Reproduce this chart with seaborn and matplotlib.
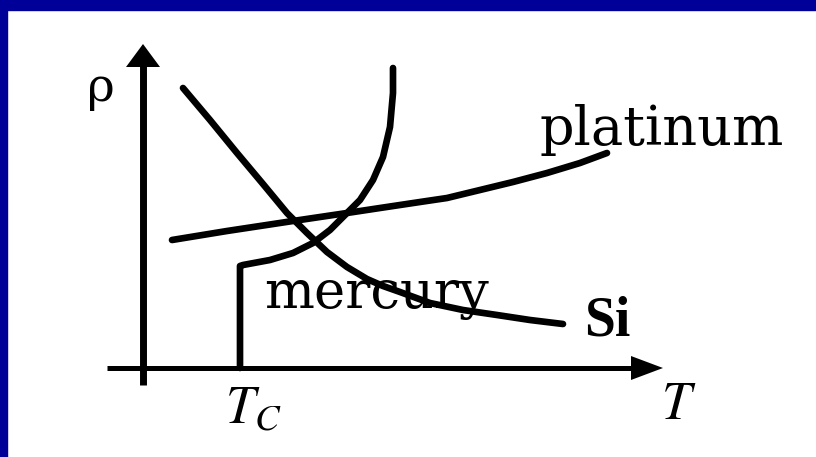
import matplotlib.pyplot as plt
import matplotlib.patches as mpatches
import seaborn as sns
import pandas as pd

# schematic curves, T and rho in arbitrary units (origin at axis crossing)
si_T = [0.40, 0.67, 0.94, 1.20, 1.44, 1.64, 1.84, 2.04, 2.24, 2.40, 2.57, 2.87, 3.20, 3.54, 3.87, 4.20]
si_rho = [2.80, 2.48, 2.15, 1.84, 1.55, 1.35, 1.16, 1.01, 0.89, 0.82, 0.76, 0.65, 0.58, 0.53, 0.48, 0.44]

pt_T = [0.29, 0.84, 1.50, 2.04, 2.37, 2.77, 3.04, 3.37, 3.70, 4.04, 4.37, 4.64]
pt_rho = [1.28, 1.37, 1.47, 1.55, 1.60, 1.66, 1.70, 1.78, 1.86, 1.95, 2.05, 2.15]

hg_T = [0.97, 0.97, 1.00, 1.27, 1.50, 1.70, 1.87, 2.04, 2.17, 2.30, 2.40, 2.47, 2.50, 2.50]
hg_rho = [0.00, 1.02, 1.03, 1.08, 1.15, 1.25, 1.38, 1.55, 1.68, 1.88, 2.11, 2.41, 2.75, 3.00]

curves = pd.concat([
    pd.DataFrame({'T': si_T, 'rho': si_rho, 'material': 'Si'}),
    pd.DataFrame({'T': pt_T, 'rho': pt_rho, 'material': 'platinum'}),
    pd.DataFrame({'T': hg_T, 'rho': hg_rho, 'material': 'mercury'}),
])

sns.set_theme(style='white')
plt.rcParams['mathtext.fontset'] = 'stix'
plt.rcParams['text.color'] = 'black'

fig = plt.figure(figsize=(8.16, 4.57), dpi=100, facecolor='white')
ax = fig.add_axes([0, 0, 1, 1])
ax.set_xlim(-1.43, 6.73)
ax.set_ylim(-0.89, 3.68)
ax.axis('off')

# blue slide frame (top and left)
fig.add_artist(mpatches.Rectangle((0, 1 - 10 / 457), 1, 10 / 457, transform=fig.transFigure,
                                  color='#000099', zorder=0))
fig.add_artist(mpatches.Rectangle((0, 0), 7 / 816, 1, transform=fig.transFigure,
                                  color='#000099', zorder=0))

# axes with arrow heads
ax.plot([0, 0], [-0.17, 3.02], color='black', lw=5, solid_capstyle='butt')
ax.fill([-0.17, 0.17, 0], [3.01, 3.01, 3.24], color='black', lw=0)
ax.plot([-0.36, 4.9], [0, 0], color='black', lw=3.6, solid_capstyle='butt')
ax.fill([4.88, 4.88, 5.20], [0.12, -0.12, 0], color='black', lw=0)

sns.lineplot(data=curves, x='T', y='rho', units='material', estimator=None, sort=False,
             color='black', lw=4.8, ax=ax, zorder=3)
for ln in ax.lines[2:]:
    ln.set_solid_capstyle('round')
    ln.set_solid_joinstyle('round')

ax.text(-0.42, 2.80, 'ρ', fontsize=34, family='DejaVu Serif', ha='center', va='center',
        color='black')
ax.text(5.36, -0.36, '$T$', fontsize=38, ha='center', va='center', color='black')
ax.text(1.10, -0.40, '$T_C$', fontsize=38, ha='center', va='center', color='black')
ax.text(5.19, 2.38, 'platinum', fontsize=39, family='DejaVu Serif', ha='center', va='center',
        color='black')
ax.text(2.34, 0.73, 'mercury', fontsize=38, family='DejaVu Serif', ha='center', va='center',
        color='black', zorder=1)
ax.text(4.64, 0.47, 'Si', fontsize=40, family='Liberation Serif', weight='bold',
        ha='center', va='center', color='black')

fig.savefig('out.png', dpi=100, facecolor='white')
